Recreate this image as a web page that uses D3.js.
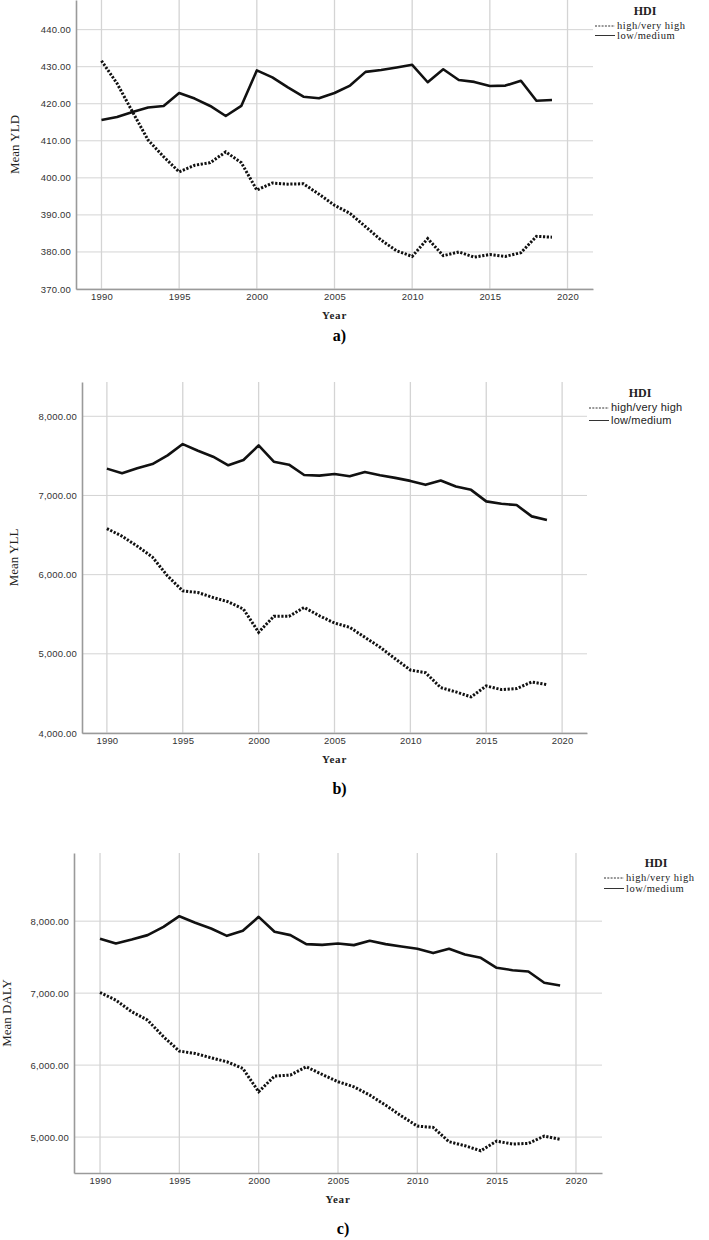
<!DOCTYPE html>
<html>
<head>
<meta charset="utf-8">
<script src="https://cdn.jsdelivr.net/npm/d3@7"></script>
<style>
  body { margin: 0; background: #fff; }
  svg { display: block; }
</style>
</head>
<body>
<div id="chart"></div>
<script>
var years = d3.range(1990, 2020);
var xTicks = [1990, 1995, 2000, 2005, 2010, 2015, 2020];

// a) Mean YLD
var yldHigh = [431.6, 425.5, 417.8, 410.2, 405.7, 401.6, 403.4, 404.1, 407.0, 404.1,
               396.7, 398.6, 398.3, 398.4, 395.6, 392.6, 390.4, 386.8, 383.2, 380.3,
               378.8, 383.6, 379.0, 380.0, 378.6, 379.3, 378.8, 379.8, 384.2, 384.0];
var yldLow  = [415.6, 416.4, 417.8, 419.0, 419.4, 422.9, 421.4, 419.4, 416.7, 419.4,
               429.0, 427.1, 424.4, 421.9, 421.5, 422.9, 424.9, 428.6, 429.1, 429.8,
               430.5, 425.8, 429.3, 426.4, 425.9, 424.8, 424.9, 426.2, 420.8, 421.0];
var yldTicks = [370, 380, 390, 400, 410, 420, 430, 440];

// b) Mean YLL
var yllHigh = [6582, 6485, 6360, 6222, 5983, 5795, 5774, 5711, 5657, 5565,
               5272, 5473, 5473, 5586, 5481, 5389, 5335, 5209, 5084, 4937,
               4795, 4762, 4573, 4519, 4456, 4594, 4548, 4561, 4644, 4611];
var yllLow  = [7339, 7280, 7343, 7397, 7506, 7649, 7565, 7490, 7381, 7448,
               7632, 7427, 7389, 7259, 7251, 7272, 7242, 7297, 7255, 7222,
               7184, 7134, 7188, 7113, 7071, 6925, 6895, 6879, 6736, 6690];
var yllTicks = [4000, 5000, 6000, 7000, 8000];

// c) Mean DALY
var dalyHigh = [7009, 6903, 6741, 6625, 6394, 6194, 6162, 6102, 6046, 5954,
                5630, 5847, 5861, 5977, 5870, 5769, 5699, 5583, 5444, 5292,
                5153, 5134, 4935, 4880, 4810, 4944, 4903, 4912, 5014, 4968];
var dalyLow  = [7755, 7690, 7745, 7806, 7921, 8069, 7977, 7898, 7796, 7866,
                8060, 7852, 7806, 7681, 7671, 7690, 7667, 7727, 7681, 7648,
                7616, 7556, 7616, 7537, 7491, 7352, 7319, 7301, 7144, 7106];
var dalyTicks = [5000, 6000, 7000, 8000];

var legendLabels = ["high/very high", "low/medium"];

var W = 709, H = 1240;
var svg = d3.select("#chart").append("svg")
    .attr("width", W)
    .attr("height", H);

var serif = "'Liberation Serif', 'Times New Roman', serif";
var sans = "'Liberation Sans', Arial, sans-serif";

function drawPanel(p) {
    var x = d3.scaleLinear().domain([1988.36, 2021.64]).range([p.left, p.right]);
    var y = d3.scaleLinear().domain(p.yDomain).range([p.bottom, p.top]);
    var g = svg.append("g");

    // grid
    g.selectAll(".hgrid").data(p.ticks).enter().append("line")
        .attr("x1", p.left).attr("x2", p.right)
        .attr("y1", function(d) { return y(d); })
        .attr("y2", function(d) { return y(d); })
        .attr("stroke", "#d4d4d4").attr("stroke-width", 1);
    g.selectAll(".vgrid").data(xTicks).enter().append("line")
        .attr("x1", function(d) { return x(d); })
        .attr("x2", function(d) { return x(d); })
        .attr("y1", p.top).attr("y2", p.bottom)
        .attr("stroke", "#d4d4d4").attr("stroke-width", 1.3);

    // axes
    var yAxis = d3.axisLeft(y).tickValues(p.ticks).tickSize(0).tickPadding(5)
        .tickFormat(d3.format(p.fmt));
    var yg = g.append("g").attr("transform", "translate(" + p.left + ",0)").call(yAxis);
    var xAxis = d3.axisBottom(x).tickValues(xTicks).tickSize(0).tickPadding(4)
        .tickFormat(d3.format("d"));
    var xg = g.append("g").attr("transform", "translate(0," + p.bottom + ")").call(xAxis);
    [yg, xg].forEach(function(a) {
        a.select(".domain").attr("stroke", "#9a9a9a").attr("stroke-width", 1.6);
        a.selectAll("text").attr("font-family", sans).attr("font-size", 9.5)
            .attr("letter-spacing", 0.2).attr("fill", "#333");
    });

    // lines
    var line = d3.line()
        .x(function(d, i) { return x(years[i]); })
        .y(function(d) { return y(d); });
    g.append("path").datum(p.low).attr("d", line)
        .attr("fill", "none").attr("stroke", "#111").attr("stroke-width", 2.6)
        .attr("stroke-linejoin", "round");
    g.append("path").datum(p.high).attr("d", line)
        .attr("fill", "none").attr("stroke", "#111").attr("stroke-width", 3)
        .attr("stroke-dasharray", "2.2,1.6");

    // labels
    var cx = (p.left + p.right) / 2;
    g.append("text")
        .attr("transform", "translate(" + p.ylabX + "," + ((p.top + p.bottom) / 2) + ") rotate(-90)")
        .attr("text-anchor", "middle").attr("font-family", serif)
        .attr("font-size", 13).attr("fill", "#222").text(p.ylab);
    g.append("text").attr("x", cx).attr("y", p.bottom + 30)
        .attr("text-anchor", "middle").attr("font-family", serif)
        .attr("font-weight", "bold").attr("font-size", 11).attr("letter-spacing", 0.8)
        .attr("fill", "#222").text("Year");
    g.append("text").attr("x", cx + 5).attr("y", p.bottom + p.tagDy)
        .attr("text-anchor", "middle").attr("font-family", serif)
        .attr("font-weight", "bold").attr("font-size", 16)
        .attr("fill", "#000").text(p.tag);

    // legend
    g.append("text").attr("x", p.lgX).attr("y", p.lgY)
        .attr("text-anchor", "middle").attr("font-family", serif)
        .attr("font-weight", "bold").attr("font-size", 12).attr("fill", "#222").text("HDI");
    legendLabels.forEach(function(lab, i) {
        var ly = p.lgY + 14 + i * p.lgGap;
        g.append("line").attr("x1", p.lgL).attr("x2", p.lgL + 20)
            .attr("y1", ly - 3).attr("y2", ly - 3)
            .attr("stroke", "#333").attr("stroke-width", 1)
            .attr("stroke-dasharray", i === 0 ? "2,1.3" : null);
        g.append("text").attr("x", p.lgL + 22).attr("y", ly)
            .attr("font-family", p.lgFont).attr("font-size", p.lgSize)
            .attr("letter-spacing", p.lgLs).attr("fill", "#222").text(lab);
    });
}

drawPanel({ left: 76, right: 593, top: 0, bottom: 289, yDomain: [370, 448],
    ticks: yldTicks, fmt: ".2f", high: yldHigh, low: yldLow, ylab: "Mean YLD", ylabX: 19,
    tag: "a)", tagDy: 52, lgX: 645, lgY: 15, lgL: 595, lgGap: 9.5,
    lgFont: serif, lgSize: 10.5, lgLs: 0.5 });

drawPanel({ left: 82, right: 587, top: 382, bottom: 733, yDomain: [4000, 8433],
    ticks: yllTicks, fmt: ",.2f", high: yllHigh, low: yllLow, ylab: "Mean YLL", ylabX: 18,
    tag: "b)", tagDy: 61, lgX: 640, lgY: 397, lgL: 589, lgGap: 12.5,
    lgFont: sans, lgSize: 11, lgLs: 0.2 });

drawPanel({ left: 74, right: 602, top: 853, bottom: 1173, yDomain: [4501, 8947],
    ticks: dalyTicks, fmt: ",.2f", high: dalyHigh, low: dalyLow, ylab: "Mean DALY", ylabX: 11,
    tag: "c)", tagDy: 61, lgX: 656, lgY: 867, lgL: 604, lgGap: 10.5,
    lgFont: serif, lgSize: 10.5, lgLs: 0.5 });
</script>
</body>
</html>
